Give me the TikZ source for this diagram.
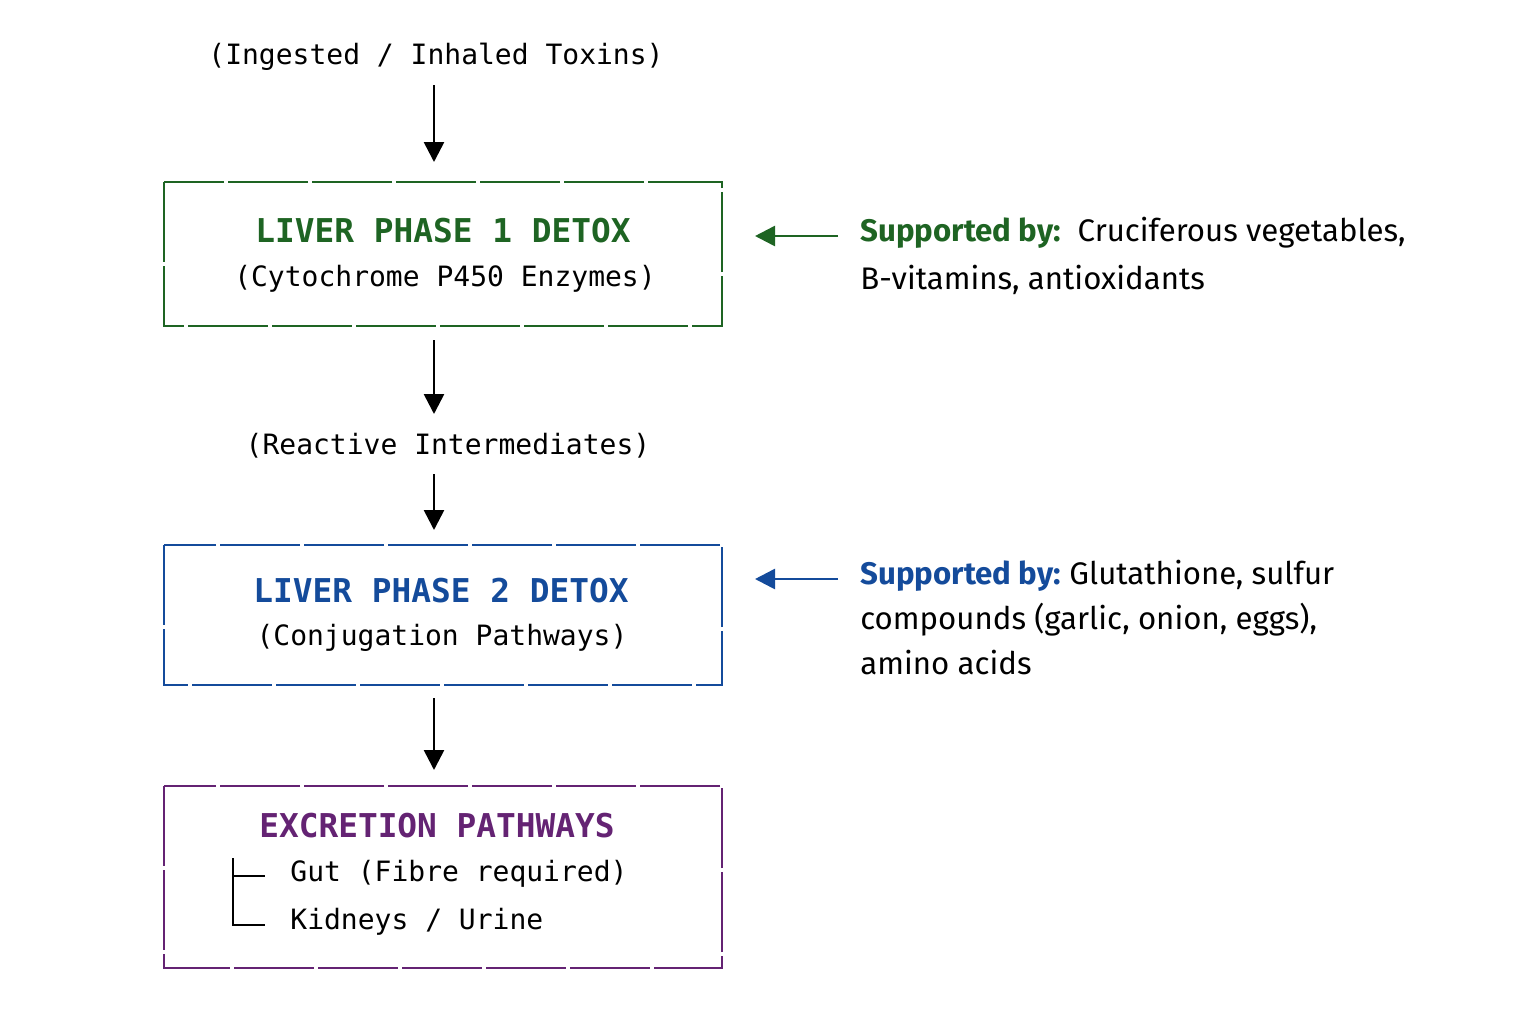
\documentclass[tikz,border=0pt]{standalone}
\usepackage{fontspec}
\setmonofont{DejaVu Sans Mono}
\newfontfamily\rfont{Fira Sans}
\usetikzlibrary{arrows.meta}
\definecolor{cg}{RGB}{30,100,35}
\definecolor{cb}{RGB}{20,75,155}
\definecolor{cp}{RGB}{100,35,115}
\tikzset{
 box/.style={draw, line width=1.3pt, dash pattern=on 40pt off 2pt},
 arr/.style={-{Triangle[length=10pt,width=10pt]}, line width=1.3pt},
 mono/.style={font=\ttfamily\fontsize{14}{17}\selectfont, inner sep=0pt},
 ttl/.style={font=\ttfamily\bfseries\fontsize{16.4}{19}\selectfont, inner sep=0pt},
 rt/.style={font=\rfont\fontsize{15.6}{18}\selectfont, anchor=west, inner sep=0pt},
}
\begin{document}
\begin{tikzpicture}[x=0.5pt,y=-0.5pt]
\useasboundingbox (0,0) rectangle (1536,1024);
\node[mono] (top) at (436,57) {(Ingested / Inhaled Toxins)};
\draw[box,cg] (164,182) rectangle (722,326);
\node[ttl,cg] (t1) at (443,231) {LIVER PHASE 1 DETOX};
\node[mono] (s1) at (445,279) {(Cytochrome P450 Enzymes)};
\node[mono] (mid) at (448,446) {(Reactive Intermediates)};
\draw[box,cb] (164,545) rectangle (722,685);
\node[ttl,cb] (t2) at (441,591) {LIVER PHASE 2 DETOX};
\node[mono] (s2) at (442,638) {(Conjugation Pathways)};
\draw[box,cp] (164,786) rectangle (722,968);
\node[ttl,cp] (t3) at (437,826) {EXCRETION PATHWAYS};
\node[mono,anchor=west] (g) at (290,874) {Gut (Fibre required)};
\node[mono,anchor=west] (k) at (290,922) {Kidneys / Urine};
\draw[line width=1.3pt] (233,858) -- (233,925) -- (265,925) (233,876) -- (265,876);
\coordinate (a1) at (434,85); \coordinate (b1) at (434,162);
\coordinate (a2) at (434,340); \coordinate (b2) at (434,414);
\coordinate (a3) at (434,474); \coordinate (b3) at (434,530);
\coordinate (a4) at (434,698); \coordinate (b4) at (434,770);
\foreach \i in {1,2,3,4} \draw[arr] (a\i) -- (b\i);
\coordinate (r1) at (838,236); \coordinate (l1) at (755,236);
\coordinate (r2) at (838,579); \coordinate (l2) at (755,579);
\draw[arr,cg] (r1) -- (l1);
\draw[arr,cb] (r2) -- (l2);
\node[rt] (p1) at (860,233) {\textcolor{cg}{\bfseries Supported by:}\ \ Cruciferous vegetables,};
\node[rt] (p2) at (860,280) {B-vitamins, antioxidants};
\node[rt] (q1) at (860,576) {\textcolor{cb}{\bfseries Supported by:}\ Glutathione, sulfur};
\node[rt] (q2) at (860,620) {compounds (garlic, onion, eggs),};
\node[rt] (q3) at (860,663) {amino acids};
\end{tikzpicture}
\end{document}
